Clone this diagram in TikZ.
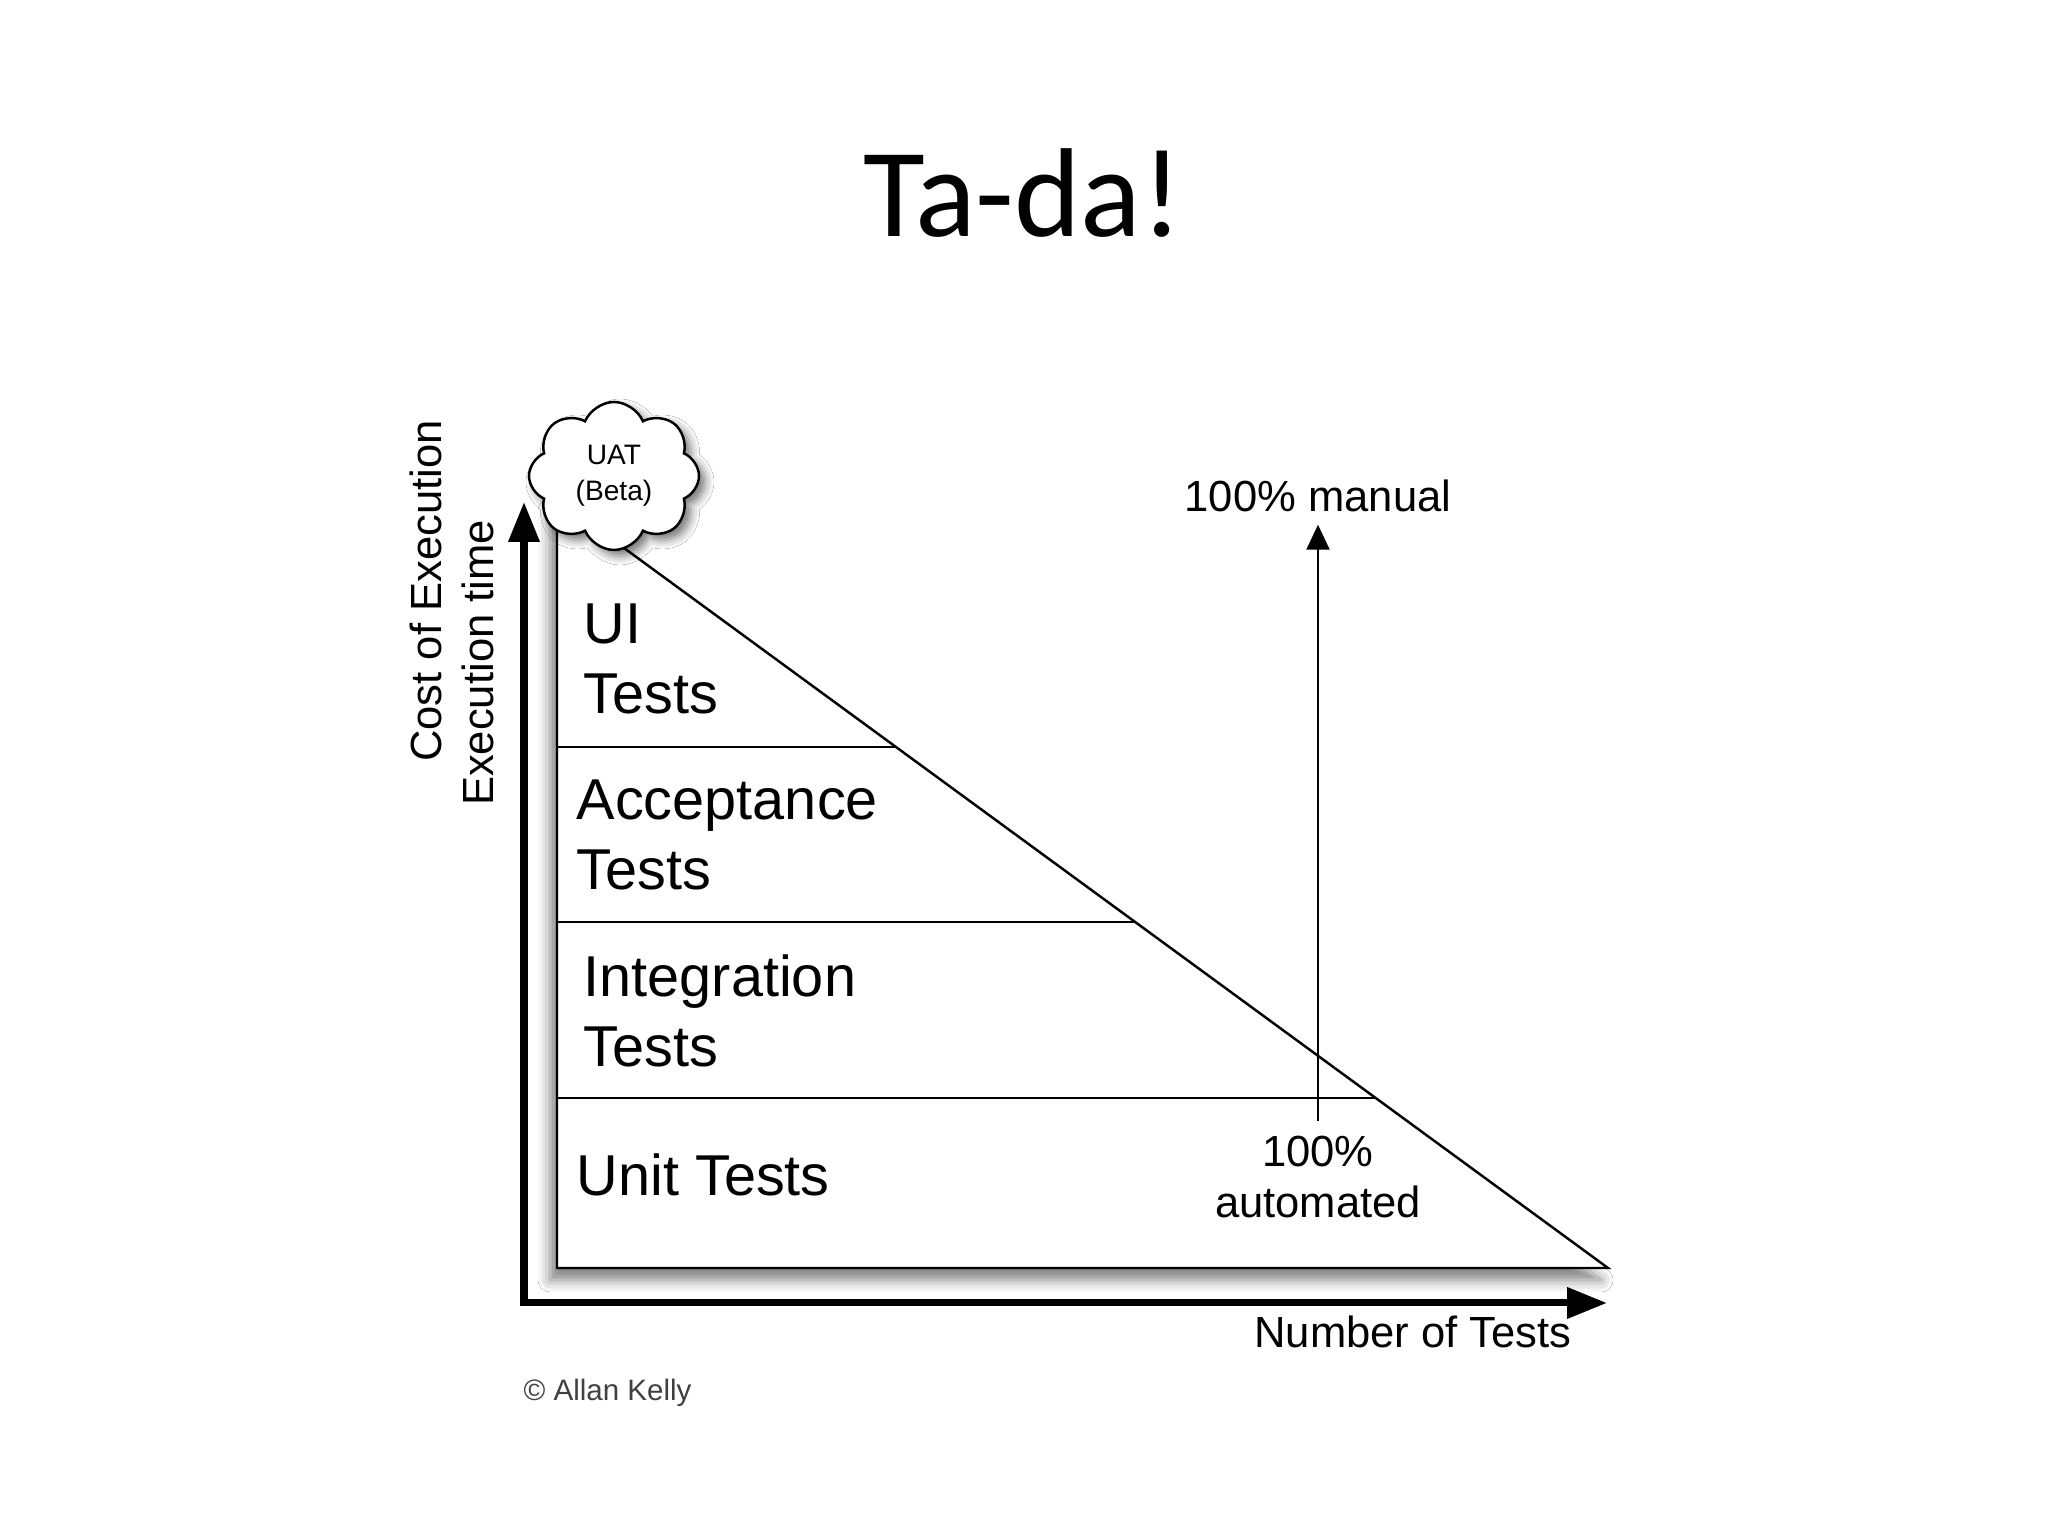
\documentclass[tikz,border=0pt]{standalone}
\usepackage{fontspec}
\setmainfont{Liberation Sans}
\newfontfamily\titlefont{Carlito}
\usetikzlibrary{shapes,arrows.meta,positioning,calc,shadows.blur}

\begin{document}
\begin{tikzpicture}[
    axis/.style={line width=2pt, {Triangle[length=4mm,width=3mm]}-{Triangle[length=4mm,width=3mm]}},
    arrow/.style={line width=0.6pt, -{Triangle[length=2.5mm,width=2.3mm,fill=black]}},
    edge/.style={line width=0.7pt},
    layer/.style={inner sep=0pt, anchor=west, align=left, font=\fontsize{16.4}{19.9}\selectfont},
    note/.style={inner sep=0pt, align=center, font=\fontsize{12.4}{14.5}\selectfont}
]
\path[use as bounding box, fill=white] (0,0) rectangle (20.48,15.36);

\node[font=\titlefont\fontsize{36}{40}\selectfont] (title) at (10.23,13.43) {Ta-da!};

\coordinate (origin) at (5.24,2.33);
\coordinate (ytip) at (5.24,10.34);
\coordinate (xtip) at (16.07,2.33);
\draw[axis] (ytip) -- (origin) -- (xtip);

\coordinate (apex) at (5.57,10.37);
\coordinate (base) at (5.57,2.68);
\coordinate (corner) at (16.08,2.68);
\filldraw[edge, fill=white, blur shadow={shadow xshift=-0.07cm, shadow yshift=-0.12cm, shadow blur radius=0.12cm, shadow opacity=50}]
    (apex) -- (base) -- (corner) -- cycle;

\foreach \t/\name in {0.3225/sepa, 0.55/sepb, 0.779/sepc} {
    \coordinate (\name) at ($(apex)!\t!(corner)$);
    \draw[edge] (base |- \name) -- (\name);
}

\node[cloud, draw, edge, fill=white, cloud puffs=8, cloud puff arc=135, aspect=1.1,
      minimum width=1.7cm, minimum height=1.48cm, inner sep=0pt, align=center,
      blur shadow={shadow xshift=0.06cm, shadow yshift=-0.06cm, shadow blur radius=0.09cm, shadow opacity=55},
      font=\fontsize{8}{10.2}\selectfont] (uat) at (6.14,10.60) {UAT\\(Beta)};

\node[layer] (ui) at (5.83,8.77) {UI\\Tests};
\node[layer] (acc) at (5.76,7.01) {Acceptance\\Tests};
\node[layer] (integ) at (5.83,5.25) {Integration\\Tests};
\node[layer] (unit) at (5.76,3.61) {Unit Tests};

\node[note] (manual) at (13.18,10.40) {100\% manual};
\node[note] (auto) at (13.18,3.59) {100\%\\automated};
\draw[arrow, shorten >=0.12cm, shorten <=0.14cm] (auto) -- (manual);

\node[note, rotate=90] (cost) at (4.26,9.45) {Cost of Execution};
\node[note, rotate=90] (exec) at (4.78,8.73) {Execution time};
\node[note] (count) at (14.13,2.04) {Number of Tests};
\node[inner sep=0pt, anchor=west, text=black!75, font=\fontsize{8.4}{10}\selectfont] (credit) at (5.23,1.43) {\textcopyright{} Allan Kelly};
\end{tikzpicture}
\end{document}
